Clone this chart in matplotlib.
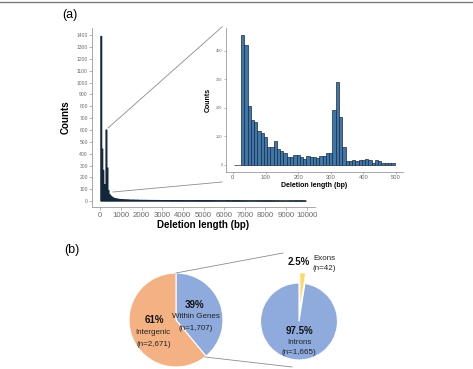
import matplotlib
matplotlib.use("Agg")
import matplotlib.pyplot as plt
from matplotlib.lines import Line2D
import numpy as np

plt.rcParams['font.family'] = ['Liberation Sans', 'DejaVu Sans']

# ---- data ----
# main histogram: 50 bp bins starting at 25 bp
main_start = 25
main_width = 50
main_counts = (
    [1390, 440, 260, 140, 140, 600, 280, 90, 57,
     45, 38, 30, 26, 22, 20, 18, 17, 15, 14, 13] +
    [12, 12, 11, 10, 11, 9, 10, 9, 8, 9, 8, 8, 9, 7, 8, 7, 8, 7, 6, 7] +
    [7, 6, 7, 6, 6, 7, 5, 6, 6, 5, 6, 5, 6, 5, 5, 6, 4, 5, 5, 4] +
    [5, 4, 5, 4, 4, 5, 4, 4, 3, 4, 4, 3, 4, 3, 4, 3, 3, 4, 3, 3] +
    [3, 4, 3, 3, 3, 2, 3, 3, 4, 3, 2, 3, 3, 2, 3, 3, 2, 3, 2, 3] +
    [3, 2, 2, 3, 2, 3, 2, 2, 3, 2, 2, 3, 2, 2, 2, 3, 2, 2, 2, 2] +
    [2, 2, 3, 2, 2, 2, 1, 2, 2, 2, 2, 1, 2, 2, 2, 1, 2, 2, 1, 2] +
    [2, 1, 2, 2, 1, 2, 2, 1, 2, 1, 2, 1, 2, 2, 1, 1, 2, 1, 2, 1] +
    [1, 2, 1, 1, 2, 1, 1, 2, 1, 1, 1, 2, 1, 1, 1, 1, 2, 1, 1, 1] +
    [1, 1, 1, 2, 1, 1, 1, 1, 1, 1, 1, 1, 1, 1, 2, 1, 1, 1, 1]
)

# inset histogram: 10 bp bins starting at 5 bp
inset_start = 5
inset_width = 10
inset_counts = [1, 1,
                456, 421, 208, 158, 149, 119, 111, 97, 61, 61,
                83, 56, 50, 43, 29, 29, 33, 33, 27, 21,
                30, 28, 28, 25, 32, 32, 41, 42, 193, 292,
                167, 63, 13, 13, 16, 15, 18, 18, 22, 18,
                8, 18, 15, 8, 8, 8, 8]

region_labels = ["Within Genes", "Intergenic"]
region_counts = [1707, 2671]
region_pct = ["39%", "61%"]
gene_labels = ["Exons", "Introns"]
gene_counts = [42, 1665]
gene_pct = ["2.5%", "97.5%"]

W, H = 473, 369
fig = plt.figure(figsize=(W / 100, H / 100), dpi=100)


def box(left, top, right, bottom):
    return [left / W, 1 - bottom / H, (right - left) / W, (bottom - top) / H]


def fx(x):
    return x / W


def fy(y):
    return 1 - y / H


axis_grey = '#9a9a9a'
tick_grey = '#6a6a6a'

# ---- panel (a) main histogram ----
ax = fig.add_axes(box(92, 28, 315, 207))
edges = main_start + main_width * np.arange(len(main_counts))
bars = ax.bar(edges, main_counts, width=main_width, align='edge',
              color='#1d3b59', edgecolor='#13263a', linewidth=0.7)
for b in bars:
    b.set_snap(False)
ax.set_xlim(-400, 10400)
ax.set_ylim(-50, 1460)
ax.set_xticks(np.arange(0, 10001, 1000))
ax.set_yticks(np.arange(0, 1401, 100))
ax.tick_params(axis='y', labelsize=3.6, colors=axis_grey, labelcolor=tick_grey,
               length=2, width=0.5, pad=1)
ax.tick_params(axis='x', labelsize=5.6, colors=axis_grey, labelcolor=tick_grey,
               length=2, width=0.5, pad=1.5)
for s in ['top', 'right']:
    ax.spines[s].set_visible(False)
for s in ['left', 'bottom']:
    ax.spines[s].set_color(axis_grey)
    ax.spines[s].set_linewidth(0.6)
ax.set_xlabel("Deletion length (bp)", fontsize=7, fontweight='bold', labelpad=1)
ax.set_ylabel("Counts", fontsize=7, fontweight='bold', labelpad=4)

# ---- panel (a) inset ----
axi = fig.add_axes(box(226, 28, 403, 172))
iedges = inset_start + inset_width * np.arange(len(inset_counts))
axi.bar(iedges, inset_counts, width=inset_width, align='edge',
        color='#3f77aa', edgecolor='#1a2a3c', linewidth=0.5)
axi.set_xlim(-21, 521)
axi.set_ylim(-25, 480)
axi.set_xticks([0, 100, 200, 300, 400, 500])
axi.set_yticks([0, 100, 200, 300, 400])
axi.tick_params(axis='y', labelsize=2.8, colors=axis_grey, labelcolor=tick_grey,
                length=1.5, width=0.5, pad=1)
axi.tick_params(axis='x', labelsize=4.2, colors=axis_grey, labelcolor=tick_grey,
                length=1.5, width=0.5, pad=1)
for s in ['top', 'right']:
    axi.spines[s].set_visible(False)
for s in ['left', 'bottom']:
    axi.spines[s].set_color(axis_grey)
    axi.spines[s].set_linewidth(0.6)
axi.set_xlabel("Deletion length (bp)", fontsize=5, fontweight='bold', labelpad=1)
axi.set_ylabel("Counts", fontsize=5, fontweight='bold', labelpad=3)

line_grey = '#8c8c8c'
for (x0, y0), (x1, y1) in [((108, 128), (222, 27)), ((113, 192), (222, 182)),
                           ((176, 273), (283, 253)), ((205, 357), (292, 367))]:
    fig.add_artist(Line2D([fx(x0), fx(x1)], [fy(y0), fy(y1)],
                          color=line_grey, lw=0.6))

# top rule
fig.add_artist(Line2D([0, fx(472)], [fy(2), fy(2)], color='#7a7a7a', lw=1.0))

fig.text(fx(70), fy(15), "(a)", fontsize=9, ha='center', va='center')
fig.text(fx(72), fy(250), "(b)", fontsize=9, ha='center', va='center')

# ---- panel (b) pies ----
axp1 = fig.add_axes(box(129, 273, 223, 367))
axp1.pie(region_counts, colors=['#8faadc', '#f4b183'], startangle=90,
         counterclock=False, wedgeprops=dict(edgecolor='white', linewidth=0.8))
axp1.set_xlim(-1, 1)
axp1.set_ylim(-1, 1)
axp1.set_aspect('equal')
axp1.axis('off')

axp2 = fig.add_axes(box(260.5, 283, 337.5, 360))
wedges, _ = axp2.pie(gene_counts, colors=['#ffd966', '#8faadc'], startangle=90,
                     counterclock=False, explode=[0.27, 0],
                     wedgeprops=dict(edgecolor='white', linewidth=0.8))
for w in wedges:
    w.set_clip_on(False)
axp2.set_xlim(-1, 1)
axp2.set_ylim(-1, 1)
axp2.set_aspect('equal')
axp2.axis('off')

bold = dict(fontsize=7, fontweight='bold', ha='center', va='center', color='#111111')
reg = dict(fontsize=5.8, ha='center', va='center', color='#222222')

fig.text(fx(195), fy(305), region_pct[0], **bold)
fig.text(fx(196), fy(317), region_labels[0], **reg)
fig.text(fx(196), fy(328), "(n={:,})".format(region_counts[0]), **reg)
fig.text(fx(154), fy(320), region_pct[1], **bold)
fig.text(fx(153), fy(332), region_labels[1], **reg)
fig.text(fx(154), fy(344), "(n={:,})".format(region_counts[1]), **reg)

fig.text(fx(299), fy(262), gene_pct[0], **bold)
fig.text(fx(324), fy(259), gene_labels[0], **reg)
fig.text(fx(324), fy(268), "(n={:,})".format(gene_counts[0]), **reg)
fig.text(fx(299), fy(331), gene_pct[1], **bold)
fig.text(fx(299), fy(342), gene_labels[1], **reg)
fig.text(fx(299), fy(353), "(n={:,})".format(gene_counts[1]), **reg)

fig.savefig("out.png", dpi=100)
